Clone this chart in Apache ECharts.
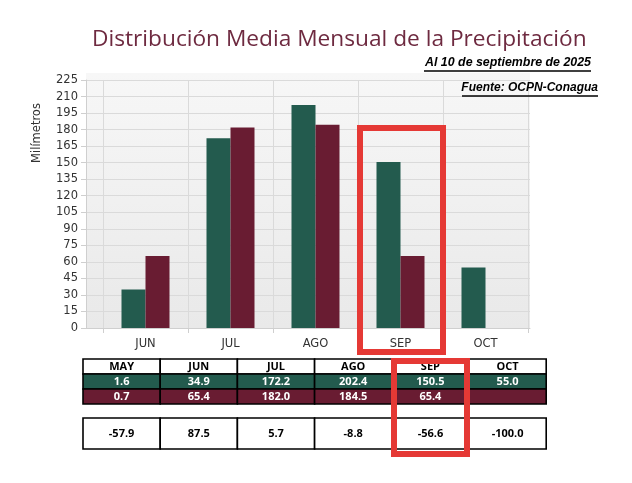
<!DOCTYPE html>
<html><head><meta charset="utf-8">
<script src="https://cdn.jsdelivr.net/npm/echarts@6/dist/echarts.min.js"></script>
<style>html,body{margin:0;padding:0;background:#fff}#c{width:632px;height:483px}</style>
</head><body><div id="c"></div>
<script>
// ---- data ----
const months = ['MAY', 'JUN', 'JUL', 'AGO', 'SEP', 'OCT'];
const mediaMensual = [1.6, 34.9, 172.2, 202.4, 150.5, 55.0];
const lluvia2025 = [0.7, 65.4, 182.0, 184.5, 65.4, null];
const anomalia = [-57.9, 87.5, 5.7, -8.8, -56.6, -100.0];
const chartMonths = months.slice(1);
const chartMedia = mediaMensual.slice(1);
const chart2025 = lluvia2025.slice(1);
const yMin = 0, yMax = 225, yInterval = 15;
const titleText = 'Distribución Media Mensual de la Precipitación';
const note1 = 'Al 10 de septiembre de 2025';
const note2 = 'Fuente: OCPN-Conagua';
const yName = 'Milímetros';

// ---- styles ----
const GREEN = '#235B4E', MAROON = '#691C32', RED = '#E53935';
const FONT = '"Open Sans", "Noto Sans", sans-serif';
const AXFONT = '"DejaVu Sans", sans-serif';

const chart = echarts.init(document.getElementById('c'), null, {renderer: 'canvas'});

// table layout
const tX0 = 83, tColW = 77.2;
const rows = [
  {y: 359, h: 15, fill: '#fff', color: '#000', vals: months},
  {y: 374, h: 15, fill: GREEN, color: '#fff', vals: mediaMensual.map(v => v == null ? '' : v.toFixed(1))},
  {y: 389, h: 15, fill: MAROON, color: '#fff', vals: lluvia2025.map(v => v == null ? '' : v.toFixed(1))},
  {y: 418, h: 31, fill: '#fff', color: '#000', vals: anomalia.map(v => v == null ? '' : v.toFixed(1))}
];
const graphics = [];
rows.forEach(r => {
  r.vals.forEach((t, i) => {
    graphics.push({type: 'rect', z: 50, shape: {x: tX0 + i * tColW, y: r.y, width: tColW, height: r.h},
      style: {fill: r.fill, stroke: '#000', lineWidth: 1.6}});
    graphics.push({type: 'text', z: 51, style: {text: t, x: tX0 + i * tColW + tColW / 2, y: r.y + r.h / 2 + 0.5,
      align: 'center', verticalAlign: 'middle', font: 'bold 11px ' + FONT, fill: r.color}});
  });
});
// y axis name
graphics.push({type: 'text', z: 10, rotation: Math.PI / 2, x: 37, y: 133,
  style: {text: yName, align: 'center', verticalAlign: 'middle', font: '11.5px ' + AXFONT, fill: '#333'}});
// notes
graphics.push({type: 'text', z: 10, style: {text: note1, x: 591, y: 63, align: 'right', verticalAlign: 'middle',
  font: 'italic bold 12.4px "Liberation Sans", sans-serif', fill: '#000'}});
graphics.push({type: 'line', z: 10, shape: {x1: 424, y1: 71, x2: 591, y2: 71}, style: {stroke: '#000', lineWidth: 1.5}});
graphics.push({type: 'text', z: 10, style: {text: note2, x: 598, y: 88, align: 'right', verticalAlign: 'middle',
  font: 'italic bold 12px "Liberation Sans", sans-serif', fill: '#000'}});
graphics.push({type: 'line', z: 10, shape: {x1: 462, y1: 96, x2: 598, y2: 96}, style: {stroke: '#000', lineWidth: 1.5}});
// highlight boxes
graphics.push({type: 'rect', z: 100, shape: {x: 360, y: 128, width: 83, height: 224},
  style: {fill: 'none', stroke: RED, lineWidth: 6}});
graphics.push({type: 'rect', z: 100, shape: {x: 394, y: 361, width: 73, height: 93},
  style: {fill: 'none', stroke: RED, lineWidth: 6}});

const hidden = {show: false};
chart.setOption({
  animation: false,
  backgroundColor: '#fff',
  title: {text: titleText, left: 87, top: 23,
    textStyle: {fontFamily: FONT, fontWeight: 'normal', fontSize: 22.7, color: '#6E2A40'}},
  grid: [
    {left: 86, right: 102, top: 73, bottom: 155, show: true, borderWidth: 0,
      backgroundColor: {type: 'linear', x: 0, y: 0, x2: 0, y2: 1,
        colorStops: [{offset: 0, color: '#f7f7f7'}, {offset: 1, color: '#e9e9e9'}]}},
    {left: 86, right: 102, top: 80, bottom: 155},
    {left: 103, right: 104, top: 80, bottom: 155}
  ],
  xAxis: [
    {gridIndex: 0, type: 'category', data: chartMonths, show: false},
    {gridIndex: 1, type: 'category', data: chartMonths,
      axisLine: {show: true, lineStyle: {color: '#cfcfcf'}}, axisTick: hidden, axisLabel: hidden, splitLine: hidden},
    {gridIndex: 2, type: 'category', data: chartMonths, boundaryGap: true,
      axisLine: {show: false},
      axisTick: {show: true, length: 5, lineStyle: {color: '#cfcfcf'}},
      axisLabel: {color: '#333', fontFamily: AXFONT, fontSize: 11.5, margin: 10},
      splitLine: {show: true, lineStyle: {color: '#dadada', width: 1}}}
  ],
  yAxis: [
    {gridIndex: 0, type: 'value', show: false, min: yMin, max: yMax},
    {gridIndex: 1, type: 'value', min: yMin, max: yMax, interval: yInterval,
      axisLine: {show: true, lineStyle: {color: '#cfcfcf'}},
      axisTick: {show: true, length: 5, lineStyle: {color: '#cfcfcf'}},
      axisLabel: {color: '#333', fontFamily: AXFONT, fontSize: 11.5, margin: 8},
      splitLine: {show: true, lineStyle: {color: '#dadada', width: 1}}},
    {gridIndex: 2, type: 'value', show: false, min: yMin, max: yMax, interval: yInterval, splitLine: hidden}
  ],
  series: [
    {name: 'Media mensual', type: 'bar', xAxisIndex: 2, yAxisIndex: 2, data: chartMedia,
      barWidth: 24, barGap: '0%', itemStyle: {color: GREEN}},
    {name: '2025', type: 'bar', xAxisIndex: 2, yAxisIndex: 2, data: chart2025,
      barWidth: 24, barGap: '0%', itemStyle: {color: MAROON}}
  ],
  graphic: {elements: graphics}
});
</script>
</body></html>
